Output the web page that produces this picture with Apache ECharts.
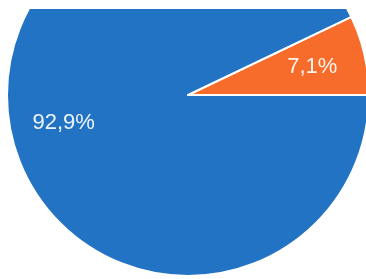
<!DOCTYPE html>
<html>
<head>
<meta charset="utf-8">
<script src="https://cdn.jsdelivr.net/npm/echarts@6/dist/echarts.min.js"></script>
<style>
html,body{margin:0;padding:0;background:#fff;width:366px;height:279px;overflow:hidden;}
#c{position:absolute;left:0;top:9px;width:366px;height:270px;}
</style>
</head>
<body>
<div id="c"></div>
<script>
var categories = ['Orange', 'Blue'];
var values = [7.1, 92.9];
var labels = ['7,1%', '92,9%'];
var colors = ['#f76c2a', '#2273c3'];

var data = categories.map(function (c, i) {
  return { name: c, value: values[i], itemStyle: { color: colors[i] } };
});
var labelData = categories.map(function (c, i) {
  return { name: c, value: values[i], label: { formatter: labels[i] } };
});

var chart = echarts.init(document.getElementById('c'));
chart.setOption({
  animation: false,
  series: [
    {
      type: 'pie',
      center: [188, 86],
      radius: [0, 181],
      startAngle: 25.56,
      clockwise: true,
      silent: true,
      label: { show: false },
      labelLine: { show: false },
      itemStyle: { borderColor: '#ffffff', borderWidth: 2 },
      data: data
    },
    {
      type: 'pie',
      center: [188, 86],
      radius: [68, 181],
      startAngle: 25.56,
      clockwise: true,
      silent: true,
      z: 3,
      itemStyle: { color: 'rgba(0,0,0,0)' },
      label: {
        show: true,
        position: 'inside',
        fontFamily: 'Liberation Sans',
        fontSize: 22,
        color: 'rgba(255,255,255,0.92)'
      },
      labelLine: { show: false },
      data: labelData
    }
  ]
});
</script>
</body>
</html>
